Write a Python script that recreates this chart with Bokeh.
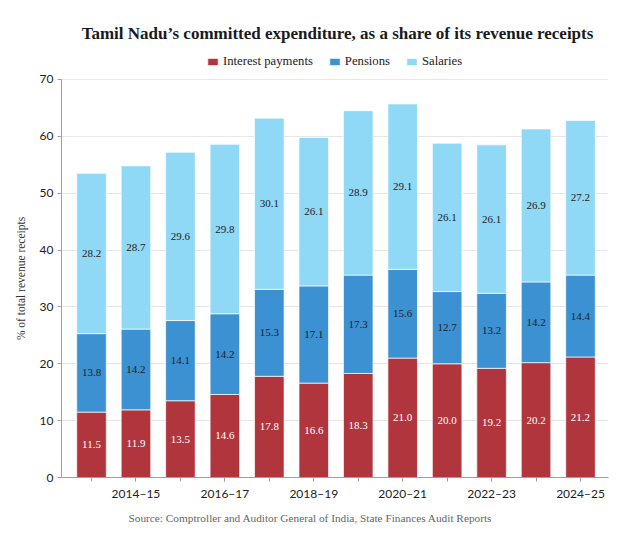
from bokeh.core.properties import value
from bokeh.embed import file_html
from bokeh.models import ColumnDataSource, FixedTicker, Label, Legend, LegendItem, Range1d, Title
from bokeh.plotting import figure
from bokeh.resources import INLINE

# data
years = ["2013–14", "2014–15", "2015–16", "2016–17", "2017–18", "2018–19",
         "2019–20", "2020–21", "2021–22", "2022–23", "2023–24", "2024–25"]
interest = [11.5, 11.9, 13.5, 14.6, 17.8, 16.6, 18.3, 21.0, 20.0, 19.2, 20.2, 21.2]
pensions = [13.8, 14.2, 14.1, 14.2, 15.3, 17.1, 17.3, 15.6, 12.7, 13.2, 14.2, 14.4]
salaries = [28.2, 28.7, 29.6, 29.8, 30.1, 26.1, 28.9, 29.1, 26.1, 26.1, 26.9, 27.2]
series_names = ["Interest payments", "Pensions", "Salaries"]
y_ticks = [0, 10, 20, 30, 40, 50, 60, 70]

title_text = "Tamil Nadu’s committed expenditure, as a share of its revenue receipts"
source_text = "Source: Comptroller and Auditor General of India, State Finances Audit Reports"

colors = ["#b0353d", "#3b91d1", "#8fd8f6"]
label_colors = ["white", "#222222", "#222222"]
serif = "Liberation Serif"
sans = "Lato"

idx = list(range(len(years)))
data = {"x": idx, "interest": interest, "pensions": pensions, "salaries": salaries}
source = ColumnDataSource(data)

# the frame reaches up to the top so that the title and legend can sit inside it;
# the y axis itself is bounded to 0-70
p = figure(width=616, height=538, output_backend="svg", toolbar_location=None,
           x_range=Range1d(-0.675, 11.63), y_range=Range1d(0, 82.13),
           min_border_left=61, min_border_right=8, min_border_top=10, min_border_bottom=61)
p.outline_line_color = None
p.background_fill_color = "white"

# stacked bars
renderers = p.vbar_stack(["interest", "pensions", "salaries"], x="x", width=0.665,
                         source=source, color=colors, line_color="white", line_alpha=0.7,
                         line_width=1)

# value labels centred in each segment
bottoms = [0] * len(years)
for vals, lc in zip([interest, pensions, salaries], label_colors):
    mids = [b + v / 2 for b, v in zip(bottoms, vals)]
    src = ColumnDataSource({"x": idx, "y": mids, "t": [f"{v:.1f}" for v in vals]})
    p.text(x="x", y="y", text="t", source=src, text_align="center", text_baseline="middle",
           text_font=value(serif), text_font_size="11px", text_color=lc)
    bottoms = [b + v for b, v in zip(bottoms, vals)]

# axes
p.xaxis.ticker = FixedTicker(ticks=idx[1::2], minor_ticks=idx)
p.xaxis.major_label_overrides = {i: years[i] for i in idx[1::2]}
p.yaxis.ticker = FixedTicker(ticks=y_ticks)
p.yaxis.bounds = (0, 70)
for ax in (p.xaxis, p.yaxis):
    ax.axis_line_color = "#a0a0a0"
    ax.major_tick_line_color = "#a0a0a0"
    ax.minor_tick_line_color = "#a0a0a0"
    ax.major_tick_out = 4
    ax.major_tick_in = 0
    ax.minor_tick_out = 4
    ax.minor_tick_in = 0
    ax.major_label_text_font = sans
    ax.major_label_text_font_size = "12px"
    ax.major_label_text_color = "#222222"
p.yaxis.minor_tick_line_color = None
p.xaxis.major_label_standoff = 4
p.yaxis.major_label_standoff = 4
# trailing no-break spaces push the label down to the middle of the 0-70 span
p.yaxis.axis_label = "% of total revenue receipts" + "\u00a0" * 24
p.yaxis.axis_label_text_font = serif
p.yaxis.axis_label_text_font_style = "normal"
p.yaxis.axis_label_text_font_size = "11.5px"
p.yaxis.axis_label_text_color = "#333333"
p.yaxis.axis_label_standoff = 10

p.xgrid.grid_line_color = None
p.ygrid.grid_line_color = "#e6e6e6"

# legend above the bars
legend = Legend(items=[LegendItem(label=n, renderers=[r]) for n, r in zip(series_names, renderers)],
                orientation="horizontal", location=(145, 408), border_line_color=None,
                background_fill_alpha=0,
                label_text_font=serif, label_text_font_size="12.7px", label_text_color="#222222",
                glyph_width=13, glyph_height=9, spacing=15, label_standoff=4,
                padding=0, margin=0)
p.add_layout(legend, "center")

# title
p.add_layout(Label(x=276, y=444, x_units="screen", y_units="screen", text_align="center",
                   text_baseline="middle", text=title_text,
                   text_font=serif, text_font_size="17px", text_font_style="bold",
                   text_color="#1a1a1a"))

# source line under the x axis
p.add_layout(Title(text=source_text, align="left", offset=67, text_font=serif,
                   text_font_size="11.3px", text_font_style="normal",
                   text_color="#666666", standoff=12), "below")

open("out.html", "w").write(file_html(p, INLINE))
